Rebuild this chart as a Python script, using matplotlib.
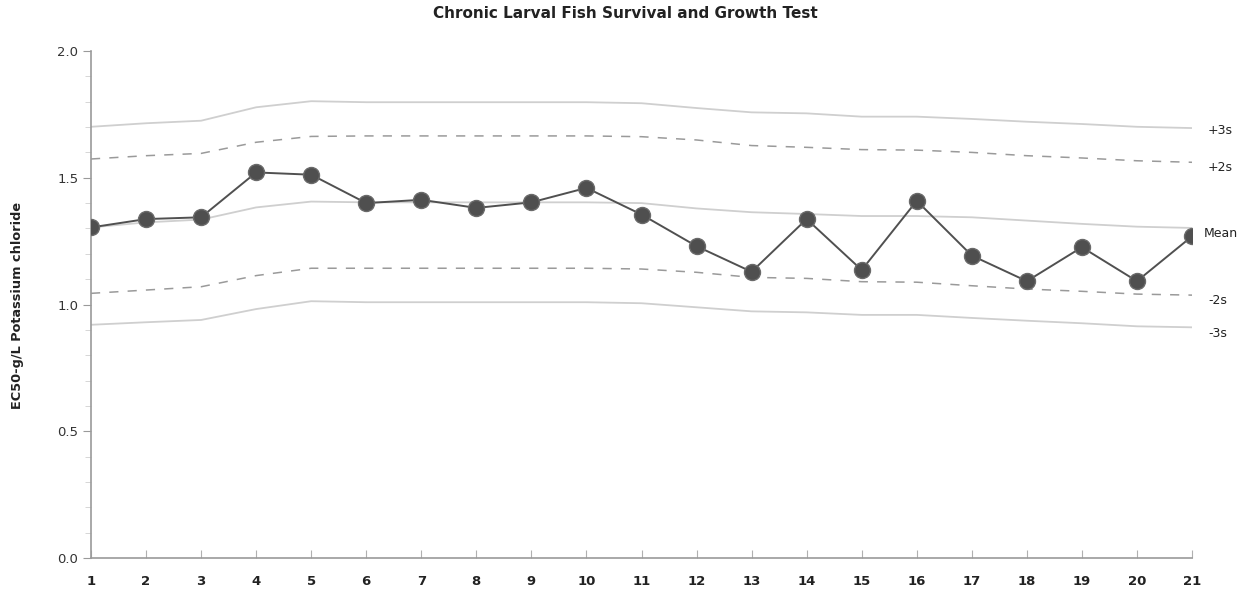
import matplotlib
matplotlib.use('Agg')
import matplotlib.pyplot as plt
from matplotlib.ticker import MultipleLocator

plt.rcParams['font.family'] = ['DejaVu Sans']

# test number 1..21
tests = list(range(1, 22))

# EC50 results (g/L potassium chloride)
ec50 = [1.304, 1.337, 1.344, 1.521, 1.512, 1.400, 1.413, 1.381, 1.403, 1.460, 1.355,
        1.230, 1.129, 1.337, 1.136, 1.409, 1.193, 1.092, 1.226, 1.092, 1.269]

# control limits
mean_line = [1.304, 1.324, 1.335, 1.383, 1.406, 1.403, 1.403, 1.403, 1.403, 1.403, 1.400,
             1.379, 1.364, 1.357, 1.349, 1.349, 1.344, 1.331, 1.318, 1.307, 1.302]
plus3s = [1.701, 1.715, 1.725, 1.778, 1.802, 1.798, 1.798, 1.798, 1.798, 1.798, 1.794,
          1.775, 1.758, 1.754, 1.741, 1.741, 1.732, 1.721, 1.712, 1.701, 1.696]
plus2s = [1.574, 1.587, 1.596, 1.640, 1.663, 1.665, 1.665, 1.665, 1.665, 1.665, 1.662,
          1.649, 1.627, 1.620, 1.611, 1.609, 1.600, 1.587, 1.578, 1.567, 1.561]
minus2s = [1.044, 1.057, 1.070, 1.114, 1.143, 1.143, 1.143, 1.143, 1.143, 1.143, 1.140,
           1.127, 1.107, 1.103, 1.090, 1.088, 1.074, 1.061, 1.052, 1.041, 1.037]
minus3s = [0.920, 0.930, 0.939, 0.982, 1.013, 1.009, 1.009, 1.009, 1.009, 1.009, 1.005,
           0.989, 0.973, 0.969, 0.959, 0.959, 0.947, 0.936, 0.926, 0.914, 0.910]

limit_labels = ['+3s', '+2s', 'Mean', '-2s', '-3s']

fig = plt.figure(figsize=(12.4, 5.92), dpi=100)
ax = fig.add_axes([91 / 1240, 34 / 592, (1192 - 91) / 1240, (558 - 51) / 592])

solid = dict(color='#cfcfcf', linewidth=1.3, zorder=1)
dashed = dict(color='#9a9a9a', linewidth=1.1, linestyle=(0, (6, 6)), zorder=1)
ax.plot(tests, plus3s, **solid)
ax.plot(tests, plus2s, **dashed)
ax.plot(tests, mean_line, **solid)
ax.plot(tests, minus2s, **dashed)
ax.plot(tests, minus3s, **solid)

ax.plot(tests, ec50, color='#505050', linewidth=1.4, marker='o', markersize=11.5,
        markerfacecolor='#4f4f4f', markeredgecolor='#6a6a6a', markeredgewidth=1, zorder=3)

# labels for the limit lines at the right end
ends = [plus3s[-1], plus2s[-1], mean_line[-1], minus2s[-1], minus3s[-1]]
offsets = [-0.01, -0.02, -0.02, -0.02, -0.025]
for lab, yv, dy in zip(limit_labels, ends, offsets):
    xpos = 21.22 if lab == 'Mean' else 21.29
    ax.text(xpos, yv + dy, lab, fontsize=9, color='#222222', va='center', ha='left',
            clip_on=False)

ax.set_xlim(1, 21)
ax.set_ylim(0, 2.0)
ax.set_xticks(tests)
ax.set_yticks([0.0, 0.5, 1.0, 1.5, 2.0])
ax.set_yticklabels(['0.0', '0.5', '1.0', '1.5', '2.0'])
ax.yaxis.set_minor_locator(MultipleLocator(0.1))

for side in ['top', 'right']:
    ax.spines[side].set_visible(False)
for side in ['left', 'bottom']:
    ax.spines[side].set_color('#9a9a9a')
    ax.spines[side].set_linewidth(1.2)

ax.tick_params(axis='y', which='major', length=6, color='#9a9a9a', labelsize=9.5,
               labelcolor='#333333', pad=3)
ax.tick_params(axis='y', which='minor', length=4, color='#d0d0d0')
ax.tick_params(axis='x', which='major', direction='in', length=6, color='#b0b0b0',
               labelsize=9.5, labelcolor='#222222', pad=12)
for lbl in ax.get_xticklabels():
    lbl.set_fontweight('bold')

fig.text(625 / 1240, 1 - 13 / 592, 'Chronic Larval Fish Survival and Growth Test',
         fontsize=11, fontweight='bold', ha='center', va='center', color='#222222')
fig.text(18 / 1240, 1 - 305 / 592, 'EC50-g/L Potassium chloride', rotation=90,
         fontsize=9.3, fontweight='bold', ha='center', va='center', color='#222222')

fig.savefig('out.png', dpi=100)
